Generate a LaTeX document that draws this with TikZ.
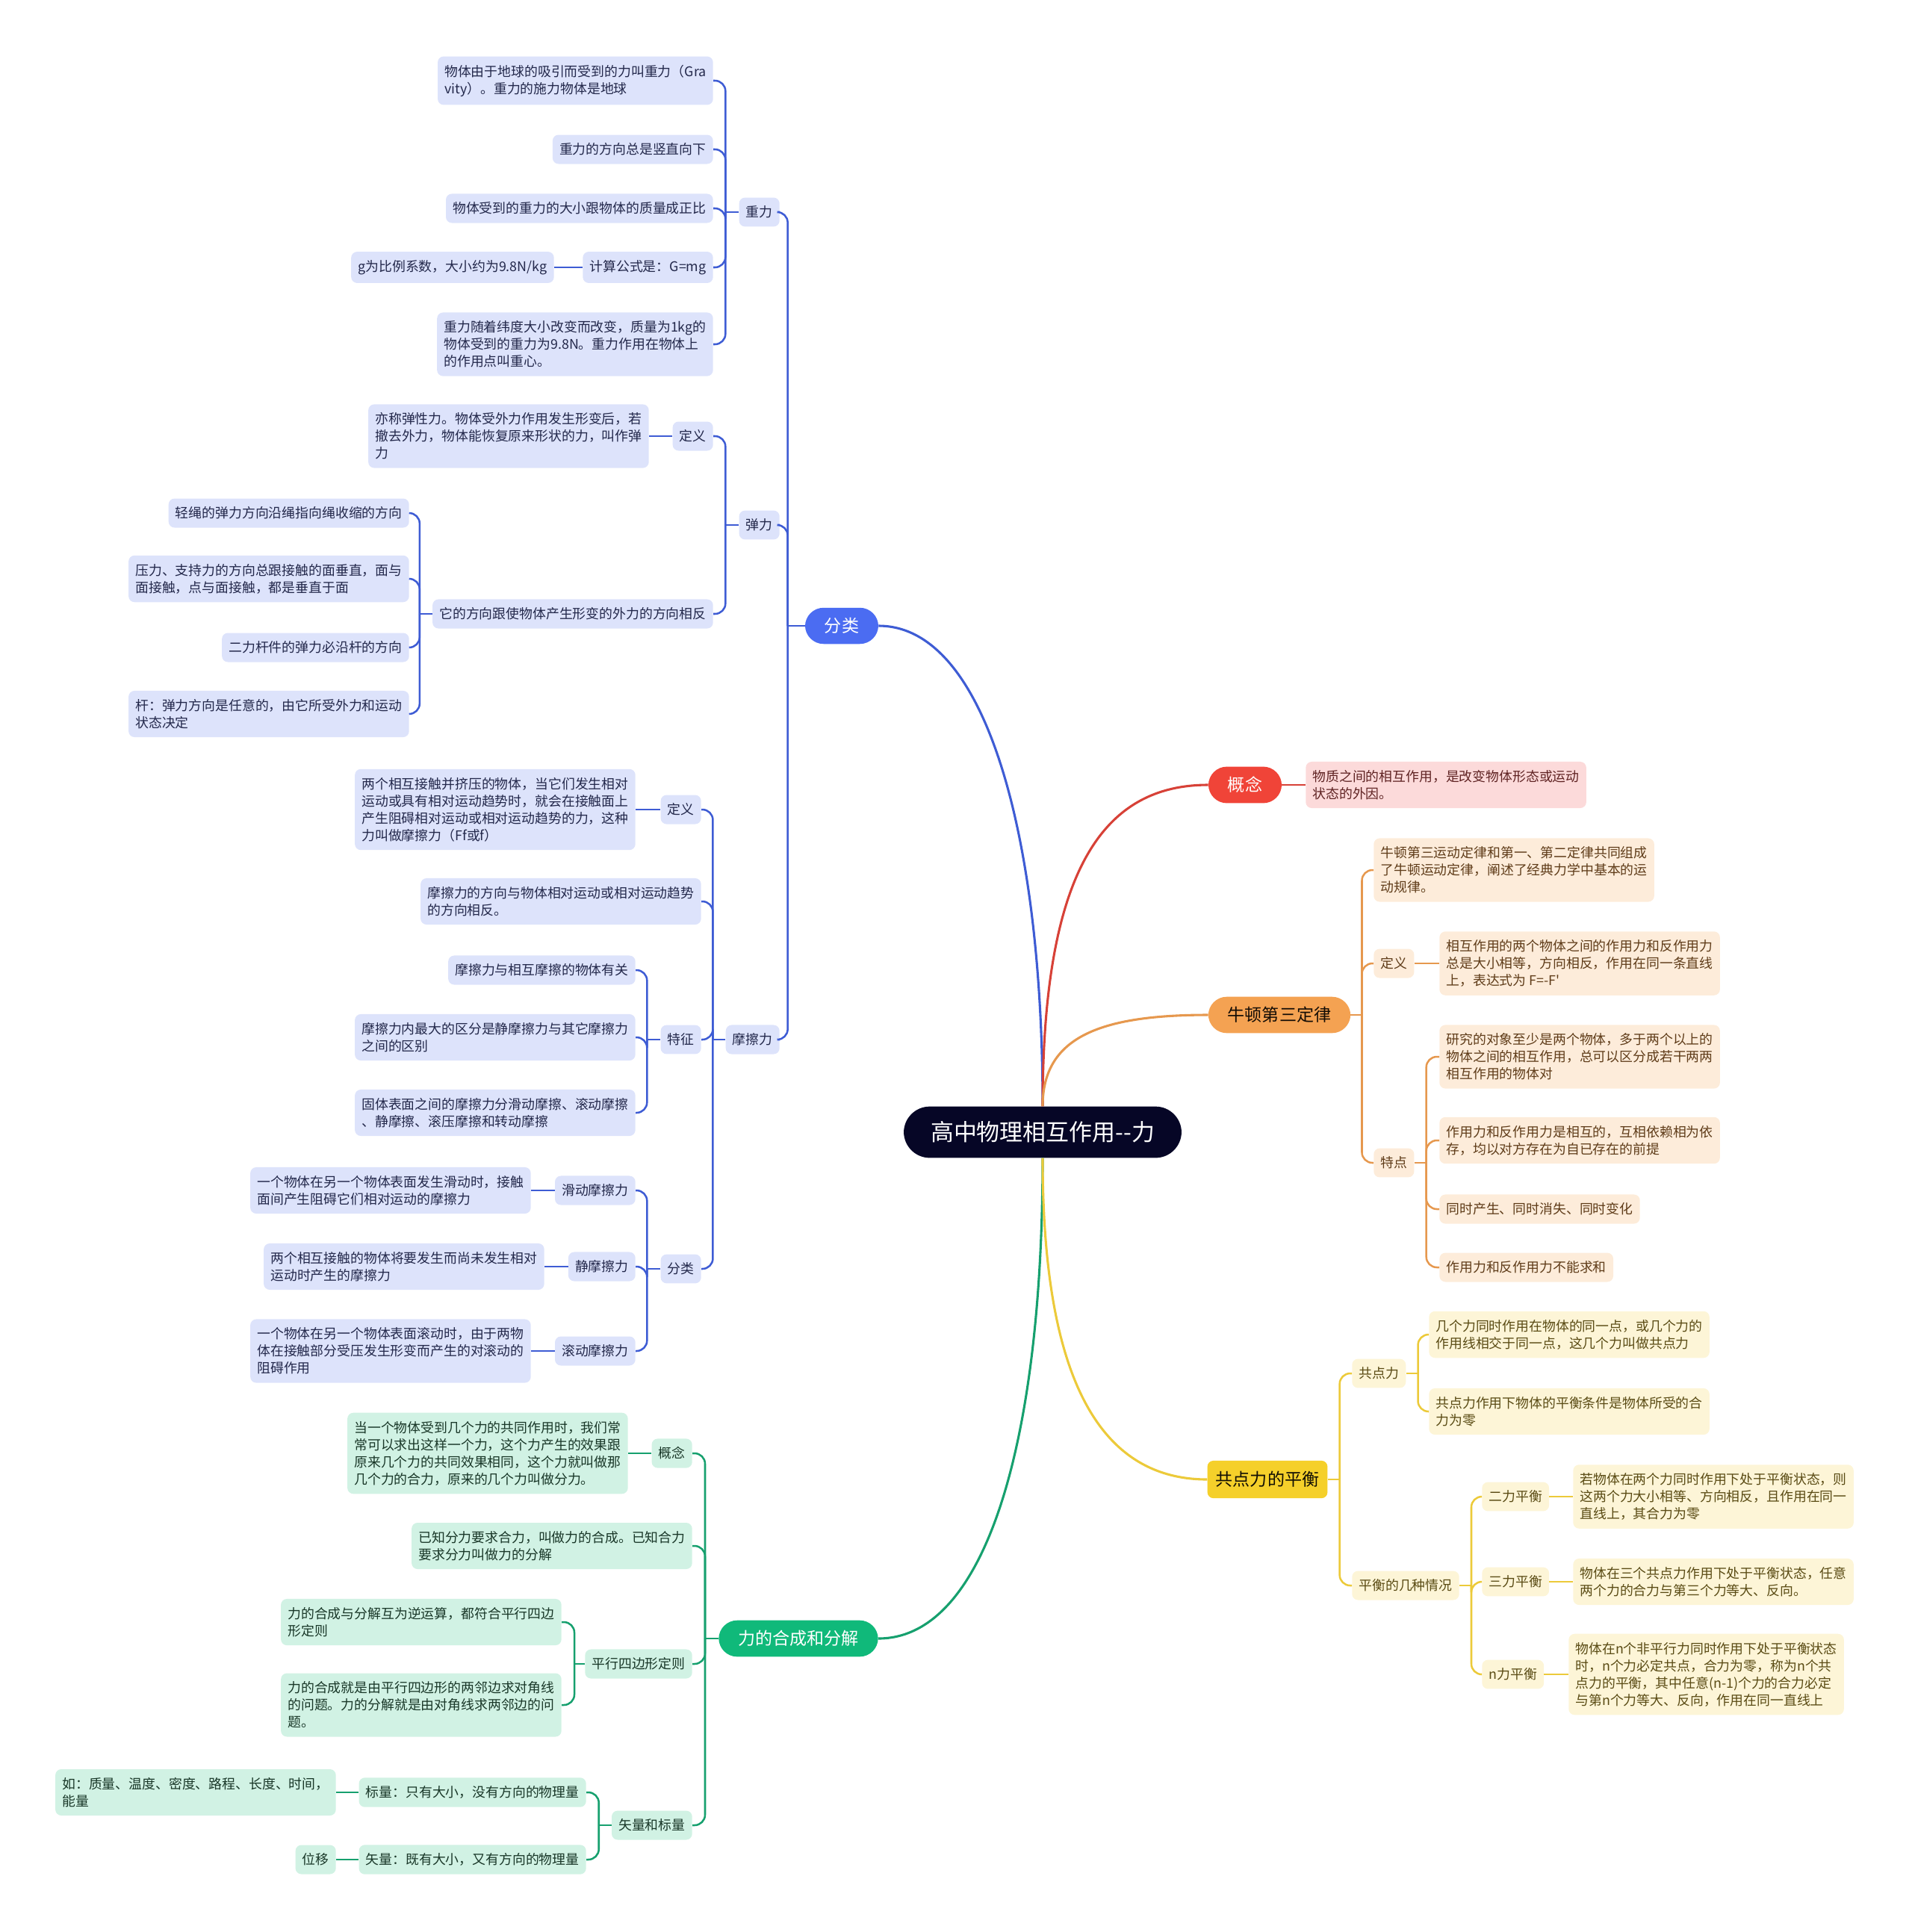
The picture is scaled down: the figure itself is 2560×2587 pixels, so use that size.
\documentclass[tikz,border=0pt]{standalone}
\usepackage{fontspec}
\setmainfont{Noto Sans CJK SC}[Ligatures=TeXOff]
\usetikzlibrary{positioning}

\definecolor{rootfill}{RGB}{6,6,38}
\definecolor{bluemain}{RGB}{75,108,242}
\definecolor{blueline}{RGB}{62,92,212}
\definecolor{bluefill}{RGB}{221,227,251}
\definecolor{bluetext}{RGB}{35,40,75}
\definecolor{greenmain}{RGB}{16,185,122}
\definecolor{greenline}{RGB}{22,160,110}
\definecolor{greenfill}{RGB}{209,242,228}
\definecolor{greentext}{RGB}{25,55,40}
\definecolor{redmain}{RGB}{240,68,56}
\definecolor{redline}{RGB}{215,65,55}
\definecolor{redfill}{RGB}{252,218,218}
\definecolor{redtext}{RGB}{95,35,35}
\definecolor{orangemain}{RGB}{244,162,82}
\definecolor{orangeline}{RGB}{230,152,78}
\definecolor{orangefill}{RGB}{253,236,218}
\definecolor{orangetext}{RGB}{95,60,25}
\definecolor{yellowmain}{RGB}{245,208,42}
\definecolor{yellowline}{RGB}{236,202,58}
\definecolor{yellowfill}{RGB}{253,245,215}
\definecolor{yellowtext}{RGB}{90,75,20}

\begin{document}
\begin{tikzpicture}[
    x=0.025cm, y=-0.025cm,
    % Styles
    rootnode/.style={fill=rootfill, text=white, rounded corners=0.87cm, inner xsep=0.9cm, inner ysep=0.5cm, font=\fontsize{22}{26}\selectfont},
    mainnode/.style={rounded corners=0.62cm, inner xsep=0.65cm, inner ysep=0.34cm, font=\fontsize{16.4}{20}\selectfont},
    leaf/.style={rounded corners=0.2cm, inner xsep=0.23cm, inner ysep=0.28cm, align=left, font=\fontsize{12.7}{16.4}\selectfont},
    bleaf/.style={leaf, fill=bluefill, text=bluetext},
    gleaf/.style={leaf, fill=greenfill, text=greentext},
    rleaf/.style={leaf, fill=redfill, text=redtext},
    oleaf/.style={leaf, fill=orangefill, text=orangetext},
    yleaf/.style={leaf, fill=yellowfill, text=yellowtext},
    bedge/.style={draw=blueline, line width=1.8pt, rounded corners=10pt},
    gedge/.style={draw=greenline, line width=1.8pt, rounded corners=10pt},
    redge/.style={draw=redline, line width=1.8pt, rounded corners=10pt},
    oedge/.style={draw=orangeline, line width=1.8pt, rounded corners=10pt},
    yedge/.style={draw=yellowline, line width=1.8pt, rounded corners=10pt},
]
\useasboundingbox (0,0) rectangle (2560,2587);

% Root
\node[rootnode] (root) at (1396,1516) {高中物理相互作用--力};

% LEFT SIDE: 分类
\node[mainnode, fill=bluemain, text=white] (fenlei) at (1127,838) {分类};

% 重力
\node[bleaf, anchor=east] (zhongli) at (1044,284) {重力};
\node[bleaf, anchor=east] (g1) at (955,108) {物体由于地球的吸引而受到的力叫重力（Gra\\vity）。重力的施力物体是地球};
\node[bleaf, anchor=east] (g2) at (955,200) {重力的方向总是竖直向下};
\node[bleaf, anchor=east] (g3) at (955,279) {物体受到的重力的大小跟物体的质量成正比};
\node[bleaf, anchor=east] (g4) at (955,358) {计算公式是：G=mg};
\node[bleaf, anchor=east] (g4a) at (742,358) {g为比例系数，大小约为9.8N/kg};
\node[bleaf, anchor=east] (g5) at (955,461) {重力随着纬度大小改变而改变，质量为1kg的\\物体受到的重力为9.8N。重力作用在物体上\\的作用点叫重心。};

% 弹力
\node[bleaf, anchor=east] (tanli) at (1044,703) {弹力};
\node[bleaf, anchor=east] (tdy) at (955,584) {定义};
\node[bleaf, anchor=east] (tdytext) at (869,584) {亦称弹性力。物体受外力作用发生形变后，若\\撤去外力，物体能恢复原来形状的力，叫作弹\\力};
\node[bleaf, anchor=east] (tfx) at (955,822) {它的方向跟使物体产生形变的外力的方向相反};
\node[bleaf, anchor=east] (e1) at (548,687) {轻绳的弹力方向沿绳指向绳收缩的方向};
\node[bleaf, anchor=east] (e2) at (548,775) {压力、支持力的方向总跟接触的面垂直，面与\\面接触，点与面接触，都是垂直于面};
\node[bleaf, anchor=east] (e3) at (548,867) {二力杆件的弹力必沿杆的方向};
\node[bleaf, anchor=east] (e4) at (548,956) {杆：弹力方向是任意的，由它所受外力和运动\\状态决定};

% 摩擦力
\node[bleaf, anchor=east] (moca) at (1044,1392) {摩擦力};
\node[bleaf, anchor=east] (mdy) at (939,1084) {定义};
\node[bleaf, anchor=east] (mdytext) at (851,1084) {两个相互接触并挤压的物体，当它们发生相对\\运动或具有相对运动趋势时，就会在接触面上\\产生阻碍相对运动或相对运动趋势的力，这种\\力叫做摩擦力（Ff或f）};
\node[bleaf, anchor=east] (mfx) at (939,1207) {摩擦力的方向与物体相对运动或相对运动趋势\\的方向相反。};
\node[bleaf, anchor=east] (mtz) at (939,1392) {特征};
\node[bleaf, anchor=east] (mt1) at (851,1299) {摩擦力与相互摩擦的物体有关};
\node[bleaf, anchor=east] (mt2) at (851,1389) {摩擦力内最大的区分是静摩擦力与其它摩擦力\\之间的区别};
\node[bleaf, anchor=east] (mt3) at (851,1490) {固体表面之间的摩擦力分滑动摩擦、滚动摩擦\\、静摩擦、滚压摩擦和转动摩擦};
\node[bleaf, anchor=east] (mfl) at (939,1699) {分类};
\node[bleaf, anchor=east] (huadong) at (851,1594) {滑动摩擦力};
\node[bleaf, anchor=east] (huadongtext) at (711,1594) {一个物体在另一个物体表面发生滑动时，接触\\面间产生阻碍它们相对运动的摩擦力};
\node[bleaf, anchor=east] (jing) at (851,1696) {静摩擦力};
\node[bleaf, anchor=east] (jingtext) at (729,1696) {两个相互接触的物体将要发生而尚未发生相对\\运动时产生的摩擦力};
\node[bleaf, anchor=east] (gundong) at (851,1809) {滚动摩擦力};
\node[bleaf, anchor=east] (gundongtext) at (711,1809) {一个物体在另一个物体表面滚动时，由于两物\\体在接触部分受压发生形变而产生的对滚动的\\阻碍作用};

% LEFT SIDE: 力的合成和分解
\node[mainnode, fill=greenmain, text=white] (hecheng) at (1069,2194) {力的合成和分解};
\node[gleaf, anchor=east] (hgn) at (927,1946) {概念};
\node[gleaf, anchor=east] (hgntext) at (841,1946) {当一个物体受到几个力的共同作用时，我们常\\常可以求出这样一个力，这个力产生的效果跟\\原来几个力的共同效果相同，这个力就叫做那\\几个力的合力，原来的几个力叫做分力。};
\node[gleaf, anchor=east] (yizhi) at (927,2070) {已知分力要求合力，叫做力的合成。已知合力\\要求分力叫做力的分解};
\node[gleaf, anchor=east] (pxsb) at (927,2228) {平行四边形定则};
\node[gleaf, anchor=east] (p1) at (752,2172) {力的合成与分解互为逆运算，都符合平行四边\\形定则};
\node[gleaf, anchor=east] (p2) at (752,2283) {力的合成就是由平行四边形的两邻边求对角线\\的问题。力的分解就是由对角线求两邻边的问\\题。};
\node[gleaf, anchor=east] (slbl) at (927,2444) {矢量和标量};
\node[gleaf, anchor=east] (biaoliang) at (785,2400) {标量：只有大小，没有方向的物理量};
\node[gleaf, anchor=east] (biaoex) at (450,2400) {如：质量、温度、密度、路程、长度、时间，\\能量};
\node[gleaf, anchor=east] (shiliang) at (785,2490) {矢量：既有大小，又有方向的物理量};
\node[gleaf, anchor=east] (shiex) at (450,2490) {位移};

% RIGHT SIDE: 概念
\node[mainnode, fill=redmain, text=white] (gainian) at (1667,1051) {概念};
\node[rleaf, anchor=west] (gntext) at (1748,1051) {物质之间的相互作用，是改变物体形态或运动\\状态的外因。};

% RIGHT SIDE: 牛顿第三定律
\node[mainnode, fill=orangemain, text=black!80!orangetext] (niudun) at (1713,1359) {牛顿第三定律};
\node[oleaf, anchor=west] (n1) at (1839,1165) {牛顿第三运动定律和第一、第二定律共同组成\\了牛顿运动定律，阐述了经典力学中基本的运\\动规律。};
\node[oleaf, anchor=west] (ndy) at (1839,1290) {定义};
\node[oleaf, anchor=west] (ndytext) at (1927,1290) {相互作用的两个物体之间的作用力和反作用力\\总是大小相等，方向相反，作用在同一条直线\\上，表达式为 F=-F'};
\node[oleaf, anchor=west] (ntd) at (1839,1557) {特点};
\node[oleaf, anchor=west] (nt1) at (1927,1415) {研究的对象至少是两个物体，多于两个以上的\\物体之间的相互作用，总可以区分成若干两两\\相互作用的物体对};
\node[oleaf, anchor=west] (nt2) at (1927,1527) {作用力和反作用力是相互的，互相依赖相为依\\存，均以对方存在为自已存在的前提};
\node[oleaf, anchor=west] (nt3) at (1927,1619) {同时产生、同时消失、同时变化};
\node[oleaf, anchor=west] (nt4) at (1927,1697) {作用力和反作用力不能求和};

% RIGHT SIDE: 共点力的平衡
\node[mainnode, fill=yellowmain, text=black!80!yellowtext, rounded corners=0.2cm, inner xsep=0.28cm, inner ysep=0.36cm] (pingheng) at (1697,1981) {共点力的平衡};
\node[yleaf, anchor=west] (gdl) at (1810,1839) {共点力};
\node[yleaf, anchor=west] (gdl1) at (1913,1787) {几个力同时作用在物体的同一点，或几个力的\\作用线相交于同一点，这几个力叫做共点力};
\node[yleaf, anchor=west] (gdl2) at (1913,1890) {共点力作用下物体的平衡条件是物体所受的合\\力为零};
\node[yleaf, anchor=west] (jzqk) at (1810,2123) {平衡的几种情况};
\node[yleaf, anchor=west] (erli) at (1984,2004) {二力平衡};
\node[yleaf, anchor=west] (erlitext) at (2106,2004) {若物体在两个力同时作用下处于平衡状态，则\\这两个力大小相等、方向相反，且作用在同一\\直线上，其合力为零};
\node[yleaf, anchor=west] (sanli) at (1984,2118) {三力平衡};
\node[yleaf, anchor=west] (sanlitext) at (2106,2118) {物体在三个共点力作用下处于平衡状态，任意\\两个力的合力与第三个力等大、反向。};
\node[yleaf, anchor=west] (nli) at (1984,2242) {n力平衡};
\node[yleaf, anchor=west] (nlitext) at (2100,2242) {物体在n个非平行力同时作用下处于平衡状态\\时，n个力必定共点，合力为零，称为n个共\\点力的平衡，其中任意(n-1)个力的合力必定\\与第n个力等大、反向，作用在同一直线上};

% Curves from the root
\draw[blueline, line width=2.2pt] (root.north) .. controls (1396,1120) and (1320,838) .. (fenlei.east);
\draw[greenline, line width=2.2pt] (root.south) .. controls (1396,1930) and (1320,2194) .. (hecheng.east);
\draw[redline, line width=2.2pt] (root.north) .. controls (1396,1160) and (1480,1051) .. (gainian.west);
\draw[orangeline, line width=2.2pt] (root.north) .. controls (1396,1390) and (1470,1359) .. (niudun.west);
\draw[yellowline, line width=2.2pt] (root.south) .. controls (1396,1860) and (1480,1981) .. (pingheng.west);

% 分类 branches
\draw[bedge] (fenlei.west) -- ++(-23,0);
\draw[bedge] (fenlei.west) ++(-23,0) |- (zhongli.east);
\draw[bedge] (fenlei.west) ++(-23,0) |- (tanli.east);
\draw[bedge] (fenlei.west) ++(-23,0) |- (moca.east);
\draw[bedge] (zhongli.west) -- ++(-18,0);
\draw[bedge] (zhongli.west) ++(-18,0) |- (g1.east);
\draw[bedge] (zhongli.west) ++(-18,0) |- (g2.east);
\draw[bedge] (zhongli.west) ++(-18,0) |- (g3.east);
\draw[bedge] (zhongli.west) ++(-18,0) |- (g4.east);
\draw[bedge] (zhongli.west) ++(-18,0) |- (g5.east);
\draw[bedge] (g4.west) -- (g4a.east);
\draw[bedge] (tanli.west) -- ++(-18,0);
\draw[bedge] (tanli.west) ++(-18,0) |- (tdy.east);
\draw[bedge] (tanli.west) ++(-18,0) |- (tfx.east);
\draw[bedge] (tdy.west) -- (tdytext.east);
\draw[bedge] (tfx.west) -- ++(-17,0);
\draw[bedge] (tfx.west) ++(-17,0) |- (e1.east);
\draw[bedge] (tfx.west) ++(-17,0) |- (e2.east);
\draw[bedge] (tfx.west) ++(-17,0) |- (e3.east);
\draw[bedge] (tfx.west) ++(-17,0) |- (e4.east);
\draw[bedge] (moca.west) -- ++(-17,0);
\draw[bedge] (moca.west) ++(-17,0) |- (mdy.east);
\draw[bedge] (moca.west) ++(-17,0) |- (mfx.east);
\draw[bedge] (moca.west) ++(-17,0) |- (mtz.east);
\draw[bedge] (moca.west) ++(-17,0) |- (mfl.east);
\draw[bedge] (mdy.west) -- (mdytext.east);
\draw[bedge] (mtz.west) -- ++(-18,0);
\draw[bedge] (mtz.west) ++(-18,0) |- (mt1.east);
\draw[bedge] (mtz.west) ++(-18,0) |- (mt2.east);
\draw[bedge] (mtz.west) ++(-18,0) |- (mt3.east);
\draw[bedge] (mfl.west) -- ++(-18,0);
\draw[bedge] (mfl.west) ++(-18,0) |- (huadong.east);
\draw[bedge] (mfl.west) ++(-18,0) |- (jing.east);
\draw[bedge] (mfl.west) ++(-18,0) |- (gundong.east);
\draw[bedge] (huadong.west) -- (huadongtext.east);
\draw[bedge] (jing.west) -- (jingtext.east);
\draw[bedge] (gundong.west) -- (gundongtext.east);

% 力的合成和分解 branches
\draw[gedge] (hecheng.west) -- ++(-18,0);
\draw[gedge] (hecheng.west) ++(-18,0) |- (hgn.east);
\draw[gedge] (hecheng.west) ++(-18,0) |- (yizhi.east);
\draw[gedge] (hecheng.west) ++(-18,0) |- (pxsb.east);
\draw[gedge] (hecheng.west) ++(-18,0) |- (slbl.east);
\draw[gedge] (hgn.west) -- (hgntext.east);
\draw[gedge] (pxsb.west) -- ++(-14,0);
\draw[gedge] (pxsb.west) ++(-14,0) |- (p1.east);
\draw[gedge] (pxsb.west) ++(-14,0) |- (p2.east);
\draw[gedge] (slbl.west) -- ++(-17,0);
\draw[gedge] (slbl.west) ++(-17,0) |- (biaoliang.east);
\draw[gedge] (slbl.west) ++(-17,0) |- (shiliang.east);
\draw[gedge] (biaoliang.west) -- (biaoex.east);
\draw[gedge] (shiliang.west) -- (shiex.east);

% 概念 branch
\draw[redge] (gainian.east) -- (gntext.west);

% 牛顿第三定律 branches
\draw[oedge] (niudun.east) -- ++(15,0);
\draw[oedge] (niudun.east) ++(15,0) |- (n1.west);
\draw[oedge] (niudun.east) ++(15,0) |- (ndy.west);
\draw[oedge] (niudun.east) ++(15,0) |- (ntd.west);
\draw[oedge] (ndy.east) -- (ndytext.west);
\draw[oedge] (ntd.east) -- ++(16,0);
\draw[oedge] (ntd.east) ++(16,0) |- (nt1.west);
\draw[oedge] (ntd.east) ++(16,0) |- (nt2.west);
\draw[oedge] (ntd.east) ++(16,0) |- (nt3.west);
\draw[oedge] (ntd.east) ++(16,0) |- (nt4.west);

% 共点力的平衡 branches
\draw[yedge] (pingheng.east) -- ++(16,0);
\draw[yedge] (pingheng.east) ++(16,0) |- (gdl.west);
\draw[yedge] (pingheng.east) ++(16,0) |- (jzqk.west);
\draw[yedge] (gdl.east) -- ++(16,0);
\draw[yedge] (gdl.east) ++(16,0) |- (gdl1.west);
\draw[yedge] (gdl.east) ++(16,0) |- (gdl2.west);
\draw[yedge] (jzqk.east) -- ++(16,0);
\draw[yedge] (jzqk.east) ++(16,0) |- (erli.west);
\draw[yedge] (jzqk.east) ++(16,0) |- (sanli.west);
\draw[yedge] (jzqk.east) ++(16,0) |- (nli.west);
\draw[yedge] (erli.east) -- (erlitext.west);
\draw[yedge] (sanli.east) -- (sanlitext.west);
\draw[yedge] (nli.east) -- (nlitext.west);

\end{tikzpicture}
\end{document}
